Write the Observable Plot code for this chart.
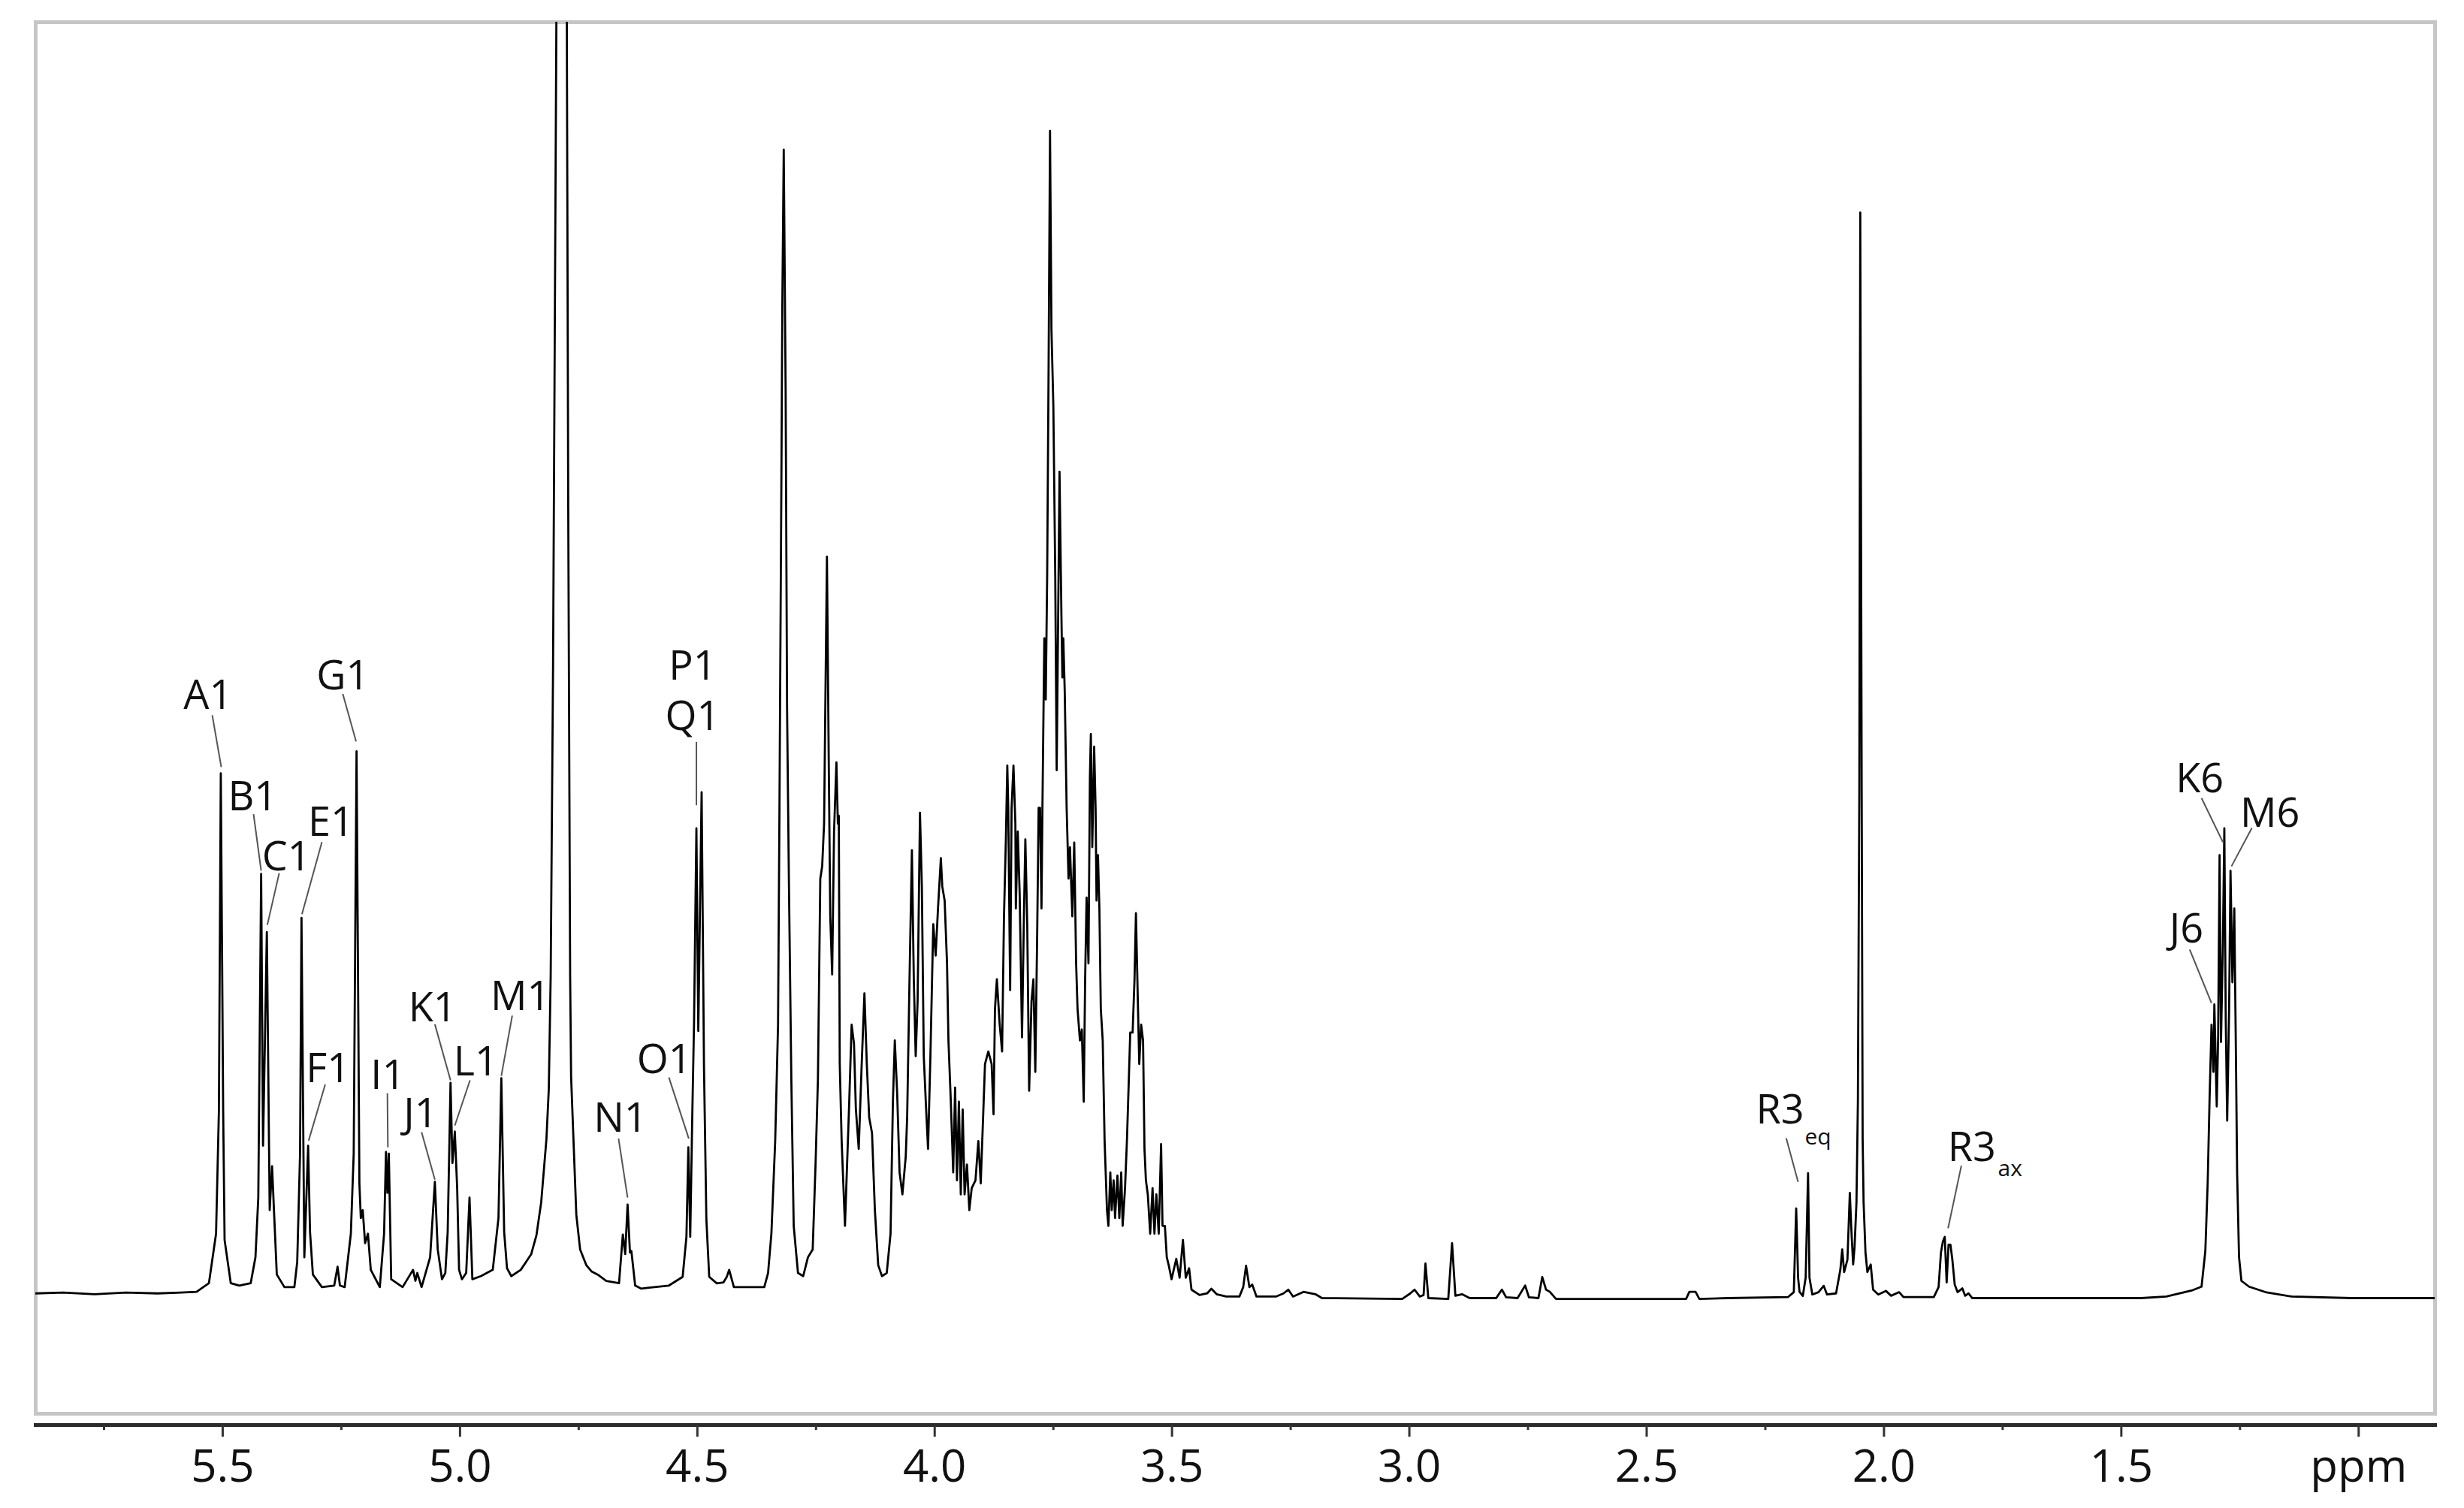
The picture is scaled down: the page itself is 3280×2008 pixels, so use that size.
<!DOCTYPE html>
<html>
<head>
<meta charset="utf-8">
<script src="https://cdn.jsdelivr.net/npm/d3@7"></script>
<script src="https://cdn.jsdelivr.net/npm/@observablehq/plot@0.6"></script>
<style>
  html, body { margin: 0; padding: 0; background: #fff; }
  #chart svg { display: block; }
</style>
</head>
<body>
<div id="chart"></div>
<script>
// 1H NMR trace: chemical shift (ppm) and intensity (arbitrary units)
const shiftPpm = [
  5.894,5.836,5.770,5.704,5.637,5.588,5.555,5.529,5.514,5.508,5.504,5.499,5.496,5.483,5.465,
  5.441,5.431,5.425,5.419,5.415,5.407,5.401,5.396,5.392,5.386,5.370,5.349,5.343,5.337,5.334,
  5.328,5.320,5.316,5.310,5.291,5.265,5.258,5.253,5.243,5.230,5.224,5.218,5.212,5.209,5.205,
  5.200,5.194,5.188,5.169,5.160,5.156,5.153,5.150,5.145,5.121,5.099,5.094,5.090,5.081,5.063,
  5.053,5.047,5.038,5.031,5.026,5.020,5.016,5.011,5.006,5.002,4.996,4.987,4.980,4.974,4.956,
  4.931,4.919,4.913,4.907,4.901,4.892,4.872,4.850,4.839,4.829,4.818,4.813,4.809,4.804,4.797,
  4.791,4.786,4.780,4.775,4.772,4.768,4.766,4.760,4.755,4.747,4.734,4.723,4.710,4.692,4.665,
  4.657,4.652,4.647,4.642,4.639,4.631,4.618,4.602,4.560,4.531,4.523,4.519,4.515,4.511,4.507,
  4.502,4.498,4.491,4.486,4.481,4.475,4.459,4.445,4.438,4.433,4.423,4.392,4.359,4.351,4.344,
  4.336,4.330,4.327,4.323,4.321,4.318,4.314,4.311,4.307,4.302,4.297,4.288,4.277,4.267,4.257,
  4.251,4.246,4.241,4.237,4.233,4.227,4.223,4.220,4.216,4.212,4.207,4.204,4.202,4.200,4.196,
  4.189,4.180,4.175,4.170,4.166,4.160,4.154,4.148,4.143,4.138,4.132,4.126,4.119,4.111,4.101,
  4.093,4.088,4.084,4.079,4.074,4.068,4.061,4.058,4.053,4.048,4.044,4.040,4.036,4.031,4.027,
  4.023,4.018,4.014,4.009,4.003,3.998,3.993,3.987,3.984,3.979,3.974,3.971,3.966,3.961,3.957,
  3.953,3.949,3.945,3.941,3.937,3.932,3.927,3.922,3.914,3.908,3.903,3.898,3.894,3.887,3.880,
  3.876,3.873,3.869,3.863,3.858,3.854,3.850,3.847,3.845,3.841,3.838,3.834,3.830,3.829,3.825,
  3.821,3.816,3.812,3.809,3.805,3.801,3.796,3.792,3.788,3.784,3.781,3.778,3.775,3.773,3.769,
  3.766,3.763,3.760,3.757,3.754,3.750,3.746,3.743,3.739,3.737,3.733,3.731,3.729,3.726,3.722,
  3.718,3.715,3.710,3.706,3.702,3.699,3.694,3.690,3.686,3.683,3.680,3.676,3.673,3.671,3.668,
  3.664,3.661,3.659,3.656,3.653,3.650,3.646,3.642,3.637,3.634,3.630,3.627,3.623,3.620,3.615,
  3.611,3.607,3.604,3.599,3.595,3.591,3.588,3.583,3.579,3.576,3.572,3.569,3.565,3.561,3.558,
  3.555,3.551,3.546,3.541,3.537,3.533,3.528,3.523,3.520,3.515,3.511,3.507,3.501,3.491,3.484,
  3.477,3.471,3.464,3.459,3.442,3.426,3.417,3.406,3.386,3.358,3.350,3.344,3.337,3.331,3.322,
  3.281,3.265,3.255,3.245,3.223,3.198,3.184,3.015,2.998,2.989,2.978,2.970,2.966,2.960,2.918,
  2.910,2.903,2.889,2.873,2.817,2.805,2.796,2.772,2.764,2.756,2.748,2.728,2.720,2.712,2.704,
  2.691,2.417,2.410,2.397,2.389,2.328,2.202,2.190,2.185,2.181,2.178,2.171,2.165,2.160,2.157,
  2.151,2.138,2.127,2.120,2.101,2.092,2.088,2.084,2.077,2.072,2.069,2.065,2.062,2.058,2.055,
  2.052,2.050,2.047,2.045,2.043,2.039,2.035,2.028,2.023,2.012,1.996,1.985,1.968,1.959,1.895,
  1.885,1.880,1.876,1.872,1.868,1.864,1.860,1.856,1.851,1.845,1.835,1.829,1.822,1.814,1.695,
  1.458,1.405,1.352,1.331,1.323,1.318,1.314,1.310,1.306,1.304,1.299,1.296,1.293,1.290,1.286,
  1.283,1.280,1.277,1.273,1.270,1.266,1.262,1.259,1.256,1.252,1.247,1.231,1.194,1.141,1.015,
  0.839
];
const intensity = [
  1,1.5,0.5,1.5,1,1.5,2,7.5,39,117,332,117,35,7.5,6,
  7.5,24,62,268,95,231,54,82,54,13,5,5,21,90,240,
  24,95,40,13,5,6,18,6,5,39,90,346,71,49,54,
  33,39,16,5,39,91,65,90,10,5,16,9,14,5,24,
  72,29,10,14,40,135,84,104,68,16,10,14,62,10,12,
  16,49,138,40,17,12,16,26,38,59,99,131,203,400,811,
  1400,2200,1400,811,500,203,139,91,51,29,19,15,13,9,7.5,
  38.5,26,57.6,27,28,6,4,4.6,6,11.5,37,94,37,109,173,
  297,168,320,145,48,11.5,7.4,8,11.5,16,5,5,5,14,39,
  98,172,310,517,630,729,576,374,260,137,44,14,12,24,29,
  83,137,265,273,300,470,334,241,204,295,339,300,305,147,98,
  44,123,172,160,118,93,145,192,147,113,103,54,19,12,14,
  39,123,162,128,78,64,88,113,201,283,201,152,187,307,260,
  152,118,93,152,236,216,246,278,260,251,211,162,123,78,132,
  73,123,64,118,64,83,54,68,73,98,71,113,147,155,147,
  115,182,201,172,155,241,290,337,310,194,310,337,300,246,295,
  256,164,241,290,236,130,187,201,142,231,310,310,246,310,418,
  379,458,590,741,615,566,458,334,458,524,433,393,418,384,310,
  265,285,241,288,211,182,162,169,123,201,253,211,329,357,285,
  349,310,251,280,246,182,162,98,54,44,78,54,73,49,76,
  49,78,44,68,98,137,167,167,201,243,187,147,172,162,93,
  73,64,39,68,39,64,39,96,44,44,24,19,10,23,11,
  35,11,17,3.4,0,1,4,0.5,-1,-1,5,18.6,5,6.6,-1,
  -1,1,3.4,-1,2,0.5,-2,-2.5,1,3.4,-1,0,20,-2,-2.5,
  33,-0.5,0.5,-2,-2,3.4,-1.5,-2,2,6,-1.5,-2,11.4,3.4,2,
  -2.5,-2.5,2,2,-2.5,-2,-1.3,1.8,55,11,2,-0.6,11,77.5,11,
  0.3,1.8,5.8,0.3,1,16,29,14.6,22.5,65,43,19.4,30.5,59,123,
  320,689,320,100,59,27,14.6,19.4,3.4,0.3,2.6,-0.5,1.8,-1.3,-1.3,
  5,27,34,37,8,32,32,22.5,6.6,1.8,4.2,-0.5,1,-2,-2,
  -2,-1,2.8,5.3,28,72,126,172,142,185,120,165,280,161,224,
  297,175,111,180,270,199,246,165,77,24,9,5.3,1.6,-1,-2,
  -2
];

// axis ticks (ppm)
const majorTicks = [5.5, 5.0, 4.5, 4.0, 3.5, 3.0, 2.5, 2.0, 1.5, 1.0];
const minorTicks = [5.75, 5.25, 4.75, 4.25, 3.75, 3.25, 2.75, 2.25, 1.75, 1.25];

// peak assignment labels (P1 and Q1 share one stacked label)
const labelText = ["A1","B1","C1","E1","F1","G1","I1","J1","K1","L1","M1","N1","O1","P1\nQ1","R3","R3","J6","K6","M6"];
const labelPpm  = [5.531,5.437,5.366,5.272,5.278,5.247,5.152,5.083,5.058,4.967,4.873,4.662,4.570,4.510,2.219,1.815,1.363,1.335,1.187];
const labelInt  = [383.5,318.6,280.5,302.5,145.6,395.6,141.5,117,184.5,150,191.5,114,151.5,386,119.4,95.8,234.5,330.4,308.4];

// subscripts of the R3 labels
const subText = ["eq","ax"];
const subPpm  = [2.167, 1.760];
const subInt  = [100.5, 80.5];

// leader lines from labels to peaks
const leaderPpmFrom = [5.522,5.435,5.381,5.291,5.284,5.247,5.153,5.081,5.053,4.979,4.890,4.666,4.560,4.502,2.206,1.837,1.356,1.331,1.225];
const leaderIntFrom = [369,306,268.5,288.3,134,382.5,128.4,103.6,172.3,136.6,177.8,99.5,138.5,352,99.8,82.3,219.9,316.2,297.2];
const leaderPpmTo   = [5.503,5.419,5.406,5.333,5.319,5.219,5.152,5.053,5.020,5.011,4.913,4.647,4.518,4.502,2.181,1.865,1.310,1.286,1.268];
const leaderIntTo   = [336,270,235.5,242.4,98.2,352.3,94,73.4,136.6,107.8,139.4,62,99.5,311.7,72,42.5,185.8,288.2,272.8];

const spectrum = shiftPpm.map((p, i) => ({ppm: p, value: intensity[i]}));
const labels = labelText.map((t, i) => ({text: t, ppm: labelPpm[i], value: labelInt[i]}));
const subs = subText.map((t, i) => ({text: t, ppm: subPpm[i], value: subInt[i]}));
const leaders = leaderPpmFrom.map((p, i) => ({x1: p, y1: leaderIntFrom[i], x2: leaderPpmTo[i], y2: leaderIntTo[i]}));

const FONT = "'Open Sans', 'Noto Sans', sans-serif";

const chart = Plot.plot({
  width: 3280,
  height: 2008,
  marginLeft: 47,
  marginRight: 39,
  marginTop: 29,
  marginBottom: 126,
  style: {background: "#fff", fontFamily: FONT, color: "#111"},
  x: {domain: [5.894, 0.839]},
  y: {domain: [-75.6, 810.1], axis: null},
  marks: [
    Plot.frame({stroke: "#c6c6c6", strokeWidth: 5}),
    Plot.frame({anchor: "bottom", dy: 15, stroke: "#2b2b2b", strokeWidth: 5}),
    Plot.axisX(minorTicks, {anchor: "bottom", tickSize: 7, dy: 15, tickFormat: () => "", label: null, stroke: "#333", strokeWidth: 3}),
    Plot.axisX(majorTicks, {
      anchor: "bottom", tickSize: 16, tickPadding: 17, dy: 15, label: null,
      tickFormat: (d) => d === 1 ? "ppm" : d.toFixed(1),
      fontSize: 60, fill: "#111", stroke: "#333", strokeWidth: 3
    }),
    Plot.line(spectrum, {x: "ppm", y: "value", stroke: "#000", strokeWidth: 2.8, clip: true}),
    Plot.link(leaders, {x1: "x1", y1: "y1", x2: "x2", y2: "y2", stroke: "#555", strokeWidth: 2}),
    Plot.text(labels, {x: "ppm", y: "value", text: "text", fontSize: 54, fill: "#111", lineAnchor: "middle", lineHeight: 1.25}),
    Plot.text(subs, {x: "ppm", y: "value", text: "text", fontSize: 30, fill: "#111", textAnchor: "start", lineAnchor: "middle"})
  ]
});
document.getElementById("chart").appendChild(chart);
</script>
</body>
</html>
